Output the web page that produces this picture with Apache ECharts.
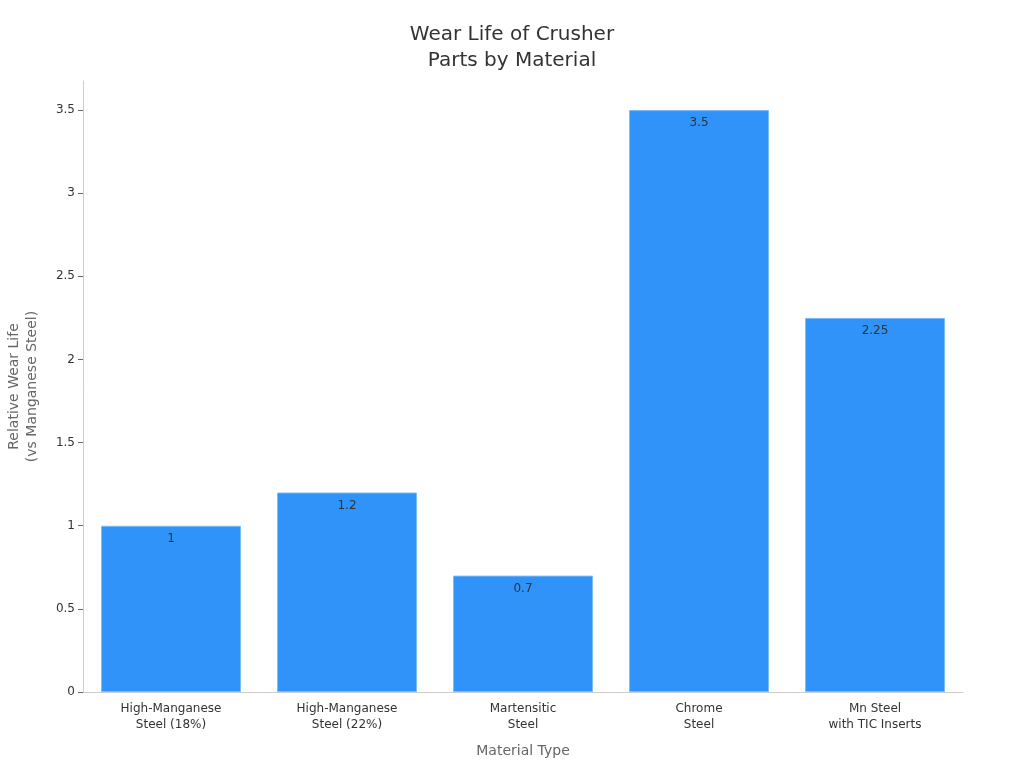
<!DOCTYPE html>
<html><head><meta charset="utf-8">
<script src="https://cdn.jsdelivr.net/npm/echarts@6/dist/echarts.min.js"></script>
<style>html,body{margin:0;padding:0;background:#fff}#c{width:1024px;height:768px}</style>
</head><body><div id="c"></div>
<script>
const categories = ["High-Manganese\nSteel (18%)", "High-Manganese\nSteel (22%)", "Martensitic\nSteel", "Chrome\nSteel", "Mn Steel\nwith TIC Inserts"];
const values = [1, 1.2, 0.7, 3.5, 2.25];
const yTicks = [0, 0.5, 1, 1.5, 2, 2.5, 3, 3.5];

const chart = echarts.init(document.getElementById('c'), null, {renderer: 'canvas'});
const font = 'DejaVu Sans';
chart.setOption({
  animation: false,
  backgroundColor: '#fff',
  title: {
    text: 'Wear Life of Crusher\nParts by Material',
    left: 'center', top: 17,
    textStyle: {fontFamily: font, fontSize: 20, fontWeight: 'normal', color: '#333', lineHeight: 26}
  },
  grid: {left: 83, right: 61, top: 81, bottom: 76, outerBoundsMode: 'none', containLabel: false},
  xAxis: {
    type: 'category', data: categories,
    name: 'Material Type', nameLocation: 'middle', nameGap: 52,
    nameTextStyle: {fontFamily: font, fontSize: 14, color: '#666'},
    axisLine: {lineStyle: {color: '#ccc'}},
    axisTick: {alignWithLabel: true, length: 5, lineStyle: {color: '#999'}},
    axisLabel: {fontFamily: font, fontSize: 12, color: '#333', lineHeight: 16, margin: 9, interval: 0}
  },
  yAxis: {
    type: 'value', min: 0, max: 3.675, interval: 0.5,
    name: 'Relative Wear Life\n(vs Manganese Steel)', nameLocation: 'middle', nameGap: 42,
    nameTextStyle: {fontFamily: font, fontSize: 14, color: '#666', lineHeight: 18},
    axisLine: {show: true, lineStyle: {color: '#ccc'}},
    axisTick: {show: true, length: 5, lineStyle: {color: '#666'}, customValues: yTicks},
    splitLine: {show: false},
    axisLabel: {fontFamily: font, fontSize: 12, color: '#333', margin: 8, customValues: yTicks}
  },
  series: [{
    type: 'bar', data: values, barWidth: 140,
    itemStyle: {color: '#2F93F9', borderColor: '#7DBBF7', borderWidth: 1},
    label: {show: true, position: 'insideTop', distance: 7, fontFamily: font, fontSize: 12, color: '#333'}
  }]
});
</script></body></html>
